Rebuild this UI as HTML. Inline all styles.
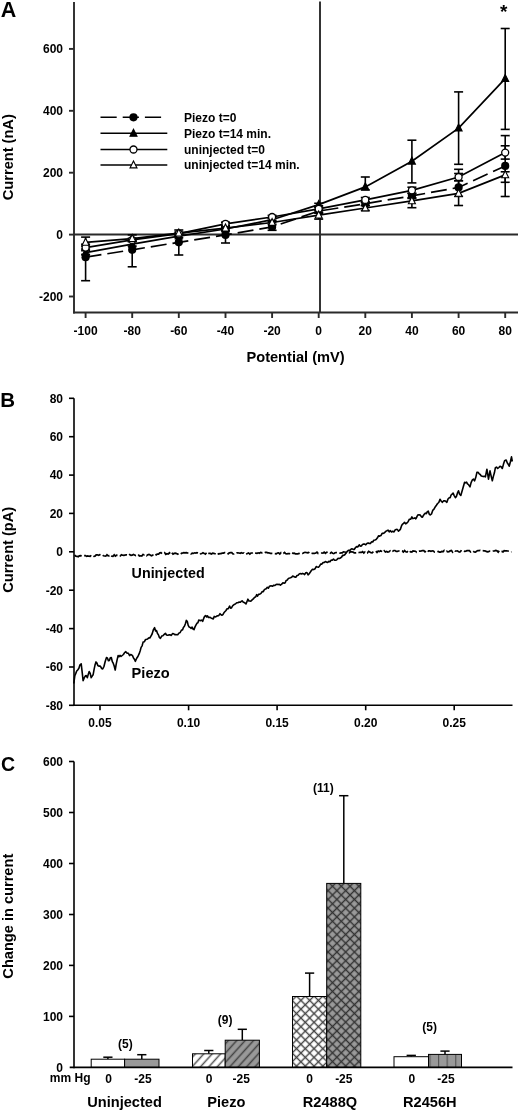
<!DOCTYPE html>
<html><head><meta charset="utf-8"><style>
html,body{margin:0;padding:0;background:#fff;width:520px;height:1112px;overflow:hidden}
svg{display:block;will-change:transform}
</style></head><body>
<svg width="520" height="1112" viewBox="0 0 520 1112">
<rect width="520" height="1112" fill="#fff"/>
<text x="0.8" y="16.8" font-size="21.5" font-family="'Liberation Sans', sans-serif" font-weight="bold">A</text>
<g stroke="#2a2a2a" stroke-width="1.9" fill="none">
<line x1="74" y1="2" x2="74" y2="313.4"/>
<line x1="73.1" y1="312.5" x2="518" y2="312.5"/>
<line x1="69" y1="48.9" x2="74" y2="48.9"/>
<line x1="69" y1="110.8" x2="74" y2="110.8"/>
<line x1="69" y1="172.7" x2="74" y2="172.7"/>
<line x1="69" y1="234.6" x2="74" y2="234.6"/>
<line x1="69" y1="296.5" x2="74" y2="296.5"/>
<line x1="85.6" y1="312.5" x2="85.6" y2="318"/>
<line x1="132.2" y1="312.5" x2="132.2" y2="318"/>
<line x1="178.8" y1="312.5" x2="178.8" y2="318"/>
<line x1="225.5" y1="312.5" x2="225.5" y2="318"/>
<line x1="272.1" y1="312.5" x2="272.1" y2="318"/>
<line x1="318.7" y1="312.5" x2="318.7" y2="318"/>
<line x1="365.3" y1="312.5" x2="365.3" y2="318"/>
<line x1="411.9" y1="312.5" x2="411.9" y2="318"/>
<line x1="458.6" y1="312.5" x2="458.6" y2="318"/>
<line x1="505.2" y1="312.5" x2="505.2" y2="318"/>
<line x1="320" y1="1.5" x2="320" y2="312.5"/>
<line x1="74" y1="234.5" x2="518" y2="234.5"/>
</g>
<text x="63" y="53.2" font-size="12" text-anchor="end" font-family="'Liberation Sans', sans-serif" font-weight="bold">600</text>
<text x="63" y="115.1" font-size="12" text-anchor="end" font-family="'Liberation Sans', sans-serif" font-weight="bold">400</text>
<text x="63" y="177.0" font-size="12" text-anchor="end" font-family="'Liberation Sans', sans-serif" font-weight="bold">200</text>
<text x="63" y="238.9" font-size="12" text-anchor="end" font-family="'Liberation Sans', sans-serif" font-weight="bold">0</text>
<text x="63" y="300.8" font-size="12" text-anchor="end" font-family="'Liberation Sans', sans-serif" font-weight="bold">-200</text>
<text x="85.6" y="335.2" font-size="12" text-anchor="middle" font-family="'Liberation Sans', sans-serif" font-weight="bold">-100</text>
<text x="132.2" y="335.2" font-size="12" text-anchor="middle" font-family="'Liberation Sans', sans-serif" font-weight="bold">-80</text>
<text x="178.8" y="335.2" font-size="12" text-anchor="middle" font-family="'Liberation Sans', sans-serif" font-weight="bold">-60</text>
<text x="225.5" y="335.2" font-size="12" text-anchor="middle" font-family="'Liberation Sans', sans-serif" font-weight="bold">-40</text>
<text x="272.1" y="335.2" font-size="12" text-anchor="middle" font-family="'Liberation Sans', sans-serif" font-weight="bold">-20</text>
<text x="318.7" y="335.2" font-size="12" text-anchor="middle" font-family="'Liberation Sans', sans-serif" font-weight="bold">0</text>
<text x="365.3" y="335.2" font-size="12" text-anchor="middle" font-family="'Liberation Sans', sans-serif" font-weight="bold">20</text>
<text x="411.9" y="335.2" font-size="12" text-anchor="middle" font-family="'Liberation Sans', sans-serif" font-weight="bold">40</text>
<text x="458.6" y="335.2" font-size="12" text-anchor="middle" font-family="'Liberation Sans', sans-serif" font-weight="bold">60</text>
<text x="505.2" y="335.2" font-size="12" text-anchor="middle" font-family="'Liberation Sans', sans-serif" font-weight="bold">80</text>
<text x="246.5" y="361.7" font-size="14.6" font-family="'Liberation Sans', sans-serif" font-weight="bold">Potential (mV)</text>
<text transform="translate(12.9,157.2) rotate(-90)" font-size="14.6" text-anchor="middle" font-family="'Liberation Sans', sans-serif" font-weight="bold">Current (nA)</text>
<text x="503.7" y="18.2" font-size="19" text-anchor="middle" font-family="'Liberation Sans', sans-serif" font-weight="bold">*</text>
<g stroke="#000" stroke-width="1.6" fill="none">
<line x1="85.6" y1="257.2" x2="85.6" y2="280.7"/>
<line x1="81.1" y1="280.7" x2="90.1" y2="280.7"/>
<line x1="132.2" y1="249.8" x2="132.2" y2="266.8"/>
<line x1="127.7" y1="266.8" x2="136.7" y2="266.8"/>
<line x1="178.8" y1="242.3" x2="178.8" y2="255.0"/>
<line x1="174.3" y1="255.0" x2="183.3" y2="255.0"/>
<line x1="225.5" y1="234.9" x2="225.5" y2="243.0"/>
<line x1="221.0" y1="243.0" x2="230.0" y2="243.0"/>
<line x1="272.1" y1="226.9" x2="272.1" y2="230.3"/>
<line x1="267.6" y1="230.3" x2="276.6" y2="230.3"/>
<line x1="318.7" y1="211.1" x2="318.7" y2="209.5"/>
<line x1="314.2" y1="209.5" x2="323.2" y2="209.5"/>
<line x1="318.7" y1="211.1" x2="318.7" y2="212.6"/>
<line x1="314.2" y1="212.6" x2="323.2" y2="212.6"/>
<line x1="365.3" y1="203.7" x2="365.3" y2="201.8"/>
<line x1="360.8" y1="201.8" x2="369.8" y2="201.8"/>
<line x1="365.3" y1="203.7" x2="365.3" y2="205.5"/>
<line x1="360.8" y1="205.5" x2="369.8" y2="205.5"/>
<line x1="411.9" y1="195.9" x2="411.9" y2="193.4"/>
<line x1="407.4" y1="193.4" x2="416.4" y2="193.4"/>
<line x1="411.9" y1="195.9" x2="411.9" y2="198.4"/>
<line x1="407.4" y1="198.4" x2="416.4" y2="198.4"/>
<line x1="458.6" y1="187.4" x2="458.6" y2="173.5"/>
<line x1="454.1" y1="173.5" x2="463.1" y2="173.5"/>
<line x1="458.6" y1="187.4" x2="458.6" y2="196.4"/>
<line x1="454.1" y1="196.4" x2="463.1" y2="196.4"/>
<line x1="505.2" y1="165.9" x2="505.2" y2="145.8"/>
<line x1="500.7" y1="145.8" x2="509.7" y2="145.8"/>
<line x1="505.2" y1="165.9" x2="505.2" y2="182.3"/>
<line x1="500.7" y1="182.3" x2="509.7" y2="182.3"/>
<line x1="85.6" y1="252.6" x2="85.6" y2="250.7"/>
<line x1="81.1" y1="250.7" x2="90.1" y2="250.7"/>
<line x1="85.6" y1="252.6" x2="85.6" y2="254.4"/>
<line x1="81.1" y1="254.4" x2="90.1" y2="254.4"/>
<line x1="132.2" y1="244.2" x2="132.2" y2="241.7"/>
<line x1="127.7" y1="241.7" x2="136.7" y2="241.7"/>
<line x1="132.2" y1="244.2" x2="132.2" y2="246.1"/>
<line x1="127.7" y1="246.1" x2="136.7" y2="246.1"/>
<line x1="178.8" y1="236.1" x2="178.8" y2="234.6"/>
<line x1="174.3" y1="234.6" x2="183.3" y2="234.6"/>
<line x1="178.8" y1="236.1" x2="178.8" y2="237.7"/>
<line x1="174.3" y1="237.7" x2="183.3" y2="237.7"/>
<line x1="225.5" y1="229.0" x2="225.5" y2="227.2"/>
<line x1="221.0" y1="227.2" x2="230.0" y2="227.2"/>
<line x1="225.5" y1="229.0" x2="225.5" y2="230.9"/>
<line x1="221.0" y1="230.9" x2="230.0" y2="230.9"/>
<line x1="272.1" y1="219.7" x2="272.1" y2="217.9"/>
<line x1="267.6" y1="217.9" x2="276.6" y2="217.9"/>
<line x1="272.1" y1="219.7" x2="272.1" y2="221.6"/>
<line x1="267.6" y1="221.6" x2="276.6" y2="221.6"/>
<line x1="318.7" y1="204.6" x2="318.7" y2="203.3"/>
<line x1="314.2" y1="203.3" x2="323.2" y2="203.3"/>
<line x1="318.7" y1="204.6" x2="318.7" y2="205.8"/>
<line x1="314.2" y1="205.8" x2="323.2" y2="205.8"/>
<line x1="365.3" y1="186.9" x2="365.3" y2="177.0"/>
<line x1="360.8" y1="177.0" x2="369.8" y2="177.0"/>
<line x1="365.3" y1="186.9" x2="365.3" y2="190.0"/>
<line x1="360.8" y1="190.0" x2="369.8" y2="190.0"/>
<line x1="411.9" y1="161.2" x2="411.9" y2="140.2"/>
<line x1="407.4" y1="140.2" x2="416.4" y2="140.2"/>
<line x1="411.9" y1="161.2" x2="411.9" y2="182.9"/>
<line x1="407.4" y1="182.9" x2="416.4" y2="182.9"/>
<line x1="458.6" y1="128.1" x2="458.6" y2="91.9"/>
<line x1="454.1" y1="91.9" x2="463.1" y2="91.9"/>
<line x1="458.6" y1="128.1" x2="458.6" y2="164.3"/>
<line x1="454.1" y1="164.3" x2="463.1" y2="164.3"/>
<line x1="505.2" y1="78.6" x2="505.2" y2="28.5"/>
<line x1="500.7" y1="28.5" x2="509.7" y2="28.5"/>
<line x1="505.2" y1="78.6" x2="505.2" y2="129.4"/>
<line x1="500.7" y1="129.4" x2="509.7" y2="129.4"/>
<line x1="85.6" y1="247.6" x2="85.6" y2="246.1"/>
<line x1="81.1" y1="246.1" x2="90.1" y2="246.1"/>
<line x1="85.6" y1="247.6" x2="85.6" y2="249.1"/>
<line x1="81.1" y1="249.1" x2="90.1" y2="249.1"/>
<line x1="132.2" y1="239.9" x2="132.2" y2="238.3"/>
<line x1="127.7" y1="238.3" x2="136.7" y2="238.3"/>
<line x1="132.2" y1="239.9" x2="132.2" y2="241.4"/>
<line x1="127.7" y1="241.4" x2="136.7" y2="241.4"/>
<line x1="178.8" y1="233.7" x2="178.8" y2="232.1"/>
<line x1="174.3" y1="232.1" x2="183.3" y2="232.1"/>
<line x1="178.8" y1="233.7" x2="178.8" y2="235.2"/>
<line x1="174.3" y1="235.2" x2="183.3" y2="235.2"/>
<line x1="225.5" y1="223.8" x2="225.5" y2="222.2"/>
<line x1="221.0" y1="222.2" x2="230.0" y2="222.2"/>
<line x1="225.5" y1="223.8" x2="225.5" y2="225.3"/>
<line x1="221.0" y1="225.3" x2="230.0" y2="225.3"/>
<line x1="272.1" y1="217.0" x2="272.1" y2="215.4"/>
<line x1="267.6" y1="215.4" x2="276.6" y2="215.4"/>
<line x1="272.1" y1="217.0" x2="272.1" y2="218.5"/>
<line x1="267.6" y1="218.5" x2="276.6" y2="218.5"/>
<line x1="318.7" y1="208.8" x2="318.7" y2="207.2"/>
<line x1="314.2" y1="207.2" x2="323.2" y2="207.2"/>
<line x1="318.7" y1="208.8" x2="318.7" y2="210.3"/>
<line x1="314.2" y1="210.3" x2="323.2" y2="210.3"/>
<line x1="365.3" y1="199.9" x2="365.3" y2="197.5"/>
<line x1="360.8" y1="197.5" x2="369.8" y2="197.5"/>
<line x1="365.3" y1="199.9" x2="365.3" y2="202.4"/>
<line x1="360.8" y1="202.4" x2="369.8" y2="202.4"/>
<line x1="411.9" y1="190.3" x2="411.9" y2="187.2"/>
<line x1="407.4" y1="187.2" x2="416.4" y2="187.2"/>
<line x1="411.9" y1="190.3" x2="411.9" y2="193.4"/>
<line x1="407.4" y1="193.4" x2="416.4" y2="193.4"/>
<line x1="458.6" y1="177.0" x2="458.6" y2="169.3"/>
<line x1="454.1" y1="169.3" x2="463.1" y2="169.3"/>
<line x1="458.6" y1="177.0" x2="458.6" y2="180.7"/>
<line x1="454.1" y1="180.7" x2="463.1" y2="180.7"/>
<line x1="505.2" y1="152.6" x2="505.2" y2="135.6"/>
<line x1="500.7" y1="135.6" x2="509.7" y2="135.6"/>
<line x1="505.2" y1="152.6" x2="505.2" y2="159.1"/>
<line x1="500.7" y1="159.1" x2="509.7" y2="159.1"/>
<line x1="85.6" y1="242.3" x2="85.6" y2="237.1"/>
<line x1="81.1" y1="237.1" x2="90.1" y2="237.1"/>
<line x1="85.6" y1="242.3" x2="85.6" y2="244.2"/>
<line x1="81.1" y1="244.2" x2="90.1" y2="244.2"/>
<line x1="132.2" y1="238.6" x2="132.2" y2="234.9"/>
<line x1="127.7" y1="234.9" x2="136.7" y2="234.9"/>
<line x1="132.2" y1="238.6" x2="132.2" y2="240.5"/>
<line x1="127.7" y1="240.5" x2="136.7" y2="240.5"/>
<line x1="178.8" y1="233.1" x2="178.8" y2="230.0"/>
<line x1="174.3" y1="230.0" x2="183.3" y2="230.0"/>
<line x1="178.8" y1="233.1" x2="178.8" y2="234.3"/>
<line x1="174.3" y1="234.3" x2="183.3" y2="234.3"/>
<line x1="225.5" y1="228.1" x2="225.5" y2="226.2"/>
<line x1="221.0" y1="226.2" x2="230.0" y2="226.2"/>
<line x1="225.5" y1="228.1" x2="225.5" y2="230.0"/>
<line x1="221.0" y1="230.0" x2="230.0" y2="230.0"/>
<line x1="272.1" y1="222.5" x2="272.1" y2="220.7"/>
<line x1="267.6" y1="220.7" x2="276.6" y2="220.7"/>
<line x1="272.1" y1="222.5" x2="272.1" y2="224.4"/>
<line x1="267.6" y1="224.4" x2="276.6" y2="224.4"/>
<line x1="318.7" y1="215.1" x2="318.7" y2="213.2"/>
<line x1="314.2" y1="213.2" x2="323.2" y2="213.2"/>
<line x1="318.7" y1="215.1" x2="318.7" y2="219.1"/>
<line x1="314.2" y1="219.1" x2="323.2" y2="219.1"/>
<line x1="365.3" y1="208.0" x2="365.3" y2="205.5"/>
<line x1="360.8" y1="205.5" x2="369.8" y2="205.5"/>
<line x1="365.3" y1="208.0" x2="365.3" y2="210.5"/>
<line x1="360.8" y1="210.5" x2="369.8" y2="210.5"/>
<line x1="411.9" y1="200.9" x2="411.9" y2="197.8"/>
<line x1="407.4" y1="197.8" x2="416.4" y2="197.8"/>
<line x1="411.9" y1="200.9" x2="411.9" y2="207.7"/>
<line x1="407.4" y1="207.7" x2="416.4" y2="207.7"/>
<line x1="458.6" y1="193.4" x2="458.6" y2="180.7"/>
<line x1="454.1" y1="180.7" x2="463.1" y2="180.7"/>
<line x1="458.6" y1="193.4" x2="458.6" y2="205.5"/>
<line x1="454.1" y1="205.5" x2="463.1" y2="205.5"/>
<line x1="505.2" y1="174.9" x2="505.2" y2="171.8"/>
<line x1="500.7" y1="171.8" x2="509.7" y2="171.8"/>
<line x1="505.2" y1="174.9" x2="505.2" y2="196.5"/>
<line x1="500.7" y1="196.5" x2="509.7" y2="196.5"/>
</g>
<polyline points="85.6,257.2 132.2,249.8 178.8,242.3 225.5,234.9 272.1,226.9 318.7,211.1 365.3,203.7 411.9,195.9 458.6,187.4 505.2,165.9" fill="none" stroke="#000" stroke-width="1.7" stroke-dasharray="16,6"/>
<polyline points="85.6,252.6 132.2,244.2 178.8,236.1 225.5,229.0 272.1,219.7 318.7,204.6 365.3,186.9 411.9,161.2 458.6,128.1 505.2,78.6" fill="none" stroke="#000" stroke-width="1.7"/>
<polyline points="85.6,247.6 132.2,239.9 178.8,233.7 225.5,223.8 272.1,217.0 318.7,208.8 365.3,199.9 411.9,190.3 458.6,177.0 505.2,152.6" fill="none" stroke="#000" stroke-width="1.7"/>
<polyline points="85.6,242.3 132.2,238.6 178.8,233.1 225.5,228.1 272.1,222.5 318.7,215.1 365.3,208.0 411.9,200.9 458.6,193.4 505.2,174.9" fill="none" stroke="#000" stroke-width="1.7"/>
<polygon points="85.6,248.5 89.1,255.5 82.1,255.5" fill="#000" stroke="#000" stroke-width="1.1" stroke-linejoin="miter"/>
<polygon points="132.2,240.1 135.7,247.1 128.7,247.1" fill="#000" stroke="#000" stroke-width="1.1" stroke-linejoin="miter"/>
<polygon points="178.8,232.0 182.3,239.0 175.3,239.0" fill="#000" stroke="#000" stroke-width="1.1" stroke-linejoin="miter"/>
<polygon points="225.5,224.9 229.0,231.9 222.0,231.9" fill="#000" stroke="#000" stroke-width="1.1" stroke-linejoin="miter"/>
<polygon points="272.1,215.6 275.6,222.6 268.6,222.6" fill="#000" stroke="#000" stroke-width="1.1" stroke-linejoin="miter"/>
<polygon points="318.7,200.5 322.2,207.5 315.2,207.5" fill="#000" stroke="#000" stroke-width="1.1" stroke-linejoin="miter"/>
<polygon points="365.3,182.8 368.8,189.8 361.8,189.8" fill="#000" stroke="#000" stroke-width="1.1" stroke-linejoin="miter"/>
<polygon points="411.9,157.1 415.4,164.1 408.4,164.1" fill="#000" stroke="#000" stroke-width="1.1" stroke-linejoin="miter"/>
<polygon points="458.6,124.0 462.1,131.0 455.1,131.0" fill="#000" stroke="#000" stroke-width="1.1" stroke-linejoin="miter"/>
<polygon points="505.2,74.5 508.7,81.5 501.7,81.5" fill="#000" stroke="#000" stroke-width="1.1" stroke-linejoin="miter"/>
<circle cx="85.6" cy="257.2" r="4.1" fill="#000"/>
<circle cx="132.2" cy="249.8" r="4.1" fill="#000"/>
<circle cx="178.8" cy="242.3" r="4.1" fill="#000"/>
<circle cx="225.5" cy="234.9" r="4.1" fill="#000"/>
<circle cx="272.1" cy="226.9" r="4.1" fill="#000"/>
<circle cx="318.7" cy="211.1" r="4.1" fill="#000"/>
<circle cx="365.3" cy="203.7" r="4.1" fill="#000"/>
<circle cx="411.9" cy="195.9" r="4.1" fill="#000"/>
<circle cx="458.6" cy="187.4" r="4.1" fill="#000"/>
<circle cx="505.2" cy="165.9" r="4.1" fill="#000"/>
<circle cx="85.6" cy="247.6" r="3.5" fill="#fff" stroke="#000" stroke-width="1.3"/>
<circle cx="132.2" cy="239.9" r="3.5" fill="#fff" stroke="#000" stroke-width="1.3"/>
<circle cx="178.8" cy="233.7" r="3.5" fill="#fff" stroke="#000" stroke-width="1.3"/>
<circle cx="225.5" cy="223.8" r="3.5" fill="#fff" stroke="#000" stroke-width="1.3"/>
<circle cx="272.1" cy="217.0" r="3.5" fill="#fff" stroke="#000" stroke-width="1.3"/>
<circle cx="318.7" cy="208.8" r="3.5" fill="#fff" stroke="#000" stroke-width="1.3"/>
<circle cx="365.3" cy="199.9" r="3.5" fill="#fff" stroke="#000" stroke-width="1.3"/>
<circle cx="411.9" cy="190.3" r="3.5" fill="#fff" stroke="#000" stroke-width="1.3"/>
<circle cx="458.6" cy="177.0" r="3.5" fill="#fff" stroke="#000" stroke-width="1.3"/>
<circle cx="505.2" cy="152.6" r="3.5" fill="#fff" stroke="#000" stroke-width="1.3"/>
<polygon points="85.6,238.2 89.1,245.2 82.1,245.2" fill="#fff" stroke="#000" stroke-width="1.1" stroke-linejoin="miter"/>
<polygon points="132.2,234.5 135.7,241.5 128.7,241.5" fill="#fff" stroke="#000" stroke-width="1.1" stroke-linejoin="miter"/>
<polygon points="178.8,229.0 182.3,236.0 175.3,236.0" fill="#fff" stroke="#000" stroke-width="1.1" stroke-linejoin="miter"/>
<polygon points="225.5,224.0 229.0,231.0 222.0,231.0" fill="#fff" stroke="#000" stroke-width="1.1" stroke-linejoin="miter"/>
<polygon points="272.1,218.4 275.6,225.4 268.6,225.4" fill="#fff" stroke="#000" stroke-width="1.1" stroke-linejoin="miter"/>
<polygon points="318.7,211.0 322.2,218.0 315.2,218.0" fill="#fff" stroke="#000" stroke-width="1.1" stroke-linejoin="miter"/>
<polygon points="365.3,203.9 368.8,210.9 361.8,210.9" fill="#fff" stroke="#000" stroke-width="1.1" stroke-linejoin="miter"/>
<polygon points="411.9,196.8 415.4,203.8 408.4,203.8" fill="#fff" stroke="#000" stroke-width="1.1" stroke-linejoin="miter"/>
<polygon points="458.6,189.3 462.1,196.3 455.1,196.3" fill="#fff" stroke="#000" stroke-width="1.1" stroke-linejoin="miter"/>
<polygon points="505.2,170.8 508.7,177.8 501.7,177.8" fill="#fff" stroke="#000" stroke-width="1.1" stroke-linejoin="miter"/>
<line x1="100.5" y1="117.3" x2="161.5" y2="117.3" stroke="#000" stroke-width="1.5" stroke-dasharray="16.2,6"/>
<circle cx="133.5" cy="117.3" r="4.1" fill="#000"/>
<text x="184" y="121.6" font-size="12" font-family="'Liberation Sans', sans-serif" font-weight="bold">Piezo t=0</text>
<line x1="100.5" y1="133.3" x2="167.3" y2="133.3" stroke="#000" stroke-width="1.5"/>
<polygon points="133.5,129.2 137.0,136.2 130.0,136.2" fill="#000" stroke="#000" stroke-width="1.1" stroke-linejoin="miter"/>
<text x="184" y="137.6" font-size="12" font-family="'Liberation Sans', sans-serif" font-weight="bold">Piezo t=14 min.</text>
<line x1="100.5" y1="149.5" x2="167.3" y2="149.5" stroke="#000" stroke-width="1.5"/>
<circle cx="133.5" cy="149.5" r="3.5" fill="#fff" stroke="#000" stroke-width="1.3"/>
<text x="184" y="153.8" font-size="12" font-family="'Liberation Sans', sans-serif" font-weight="bold">uninjected t=0</text>
<line x1="100.5" y1="165" x2="167.3" y2="165" stroke="#000" stroke-width="1.5"/>
<polygon points="133.5,160.9 137.0,167.9 130.0,167.9" fill="#fff" stroke="#000" stroke-width="1.1" stroke-linejoin="miter"/>
<text x="184" y="169.3" font-size="12" font-family="'Liberation Sans', sans-serif" font-weight="bold">uninjected t=14 min.</text>
<text x="0.3" y="407.3" font-size="20.5" font-family="'Liberation Sans', sans-serif" font-weight="bold">B</text>
<g stroke="#000" stroke-width="1.6" fill="none">
<line x1="74" y1="398.3" x2="74" y2="706.1"/>
<line x1="73.2" y1="705.3" x2="512.5" y2="705.3"/>
<line x1="69" y1="398.3" x2="74" y2="398.3"/>
<line x1="69" y1="436.7" x2="74" y2="436.7"/>
<line x1="69" y1="475.1" x2="74" y2="475.1"/>
<line x1="69" y1="513.4" x2="74" y2="513.4"/>
<line x1="69" y1="551.8" x2="74" y2="551.8"/>
<line x1="69" y1="590.2" x2="74" y2="590.2"/>
<line x1="69" y1="628.6" x2="74" y2="628.6"/>
<line x1="69" y1="667.0" x2="74" y2="667.0"/>
<line x1="69" y1="705.3" x2="74" y2="705.3"/>
<line x1="100.0" y1="705.3" x2="100.0" y2="710.3"/>
<line x1="188.6" y1="705.3" x2="188.6" y2="710.3"/>
<line x1="277.1" y1="705.3" x2="277.1" y2="710.3"/>
<line x1="365.7" y1="705.3" x2="365.7" y2="710.3"/>
<line x1="454.2" y1="705.3" x2="454.2" y2="710.3"/>
</g>
<text x="63" y="402.6" font-size="12" text-anchor="end" font-family="'Liberation Sans', sans-serif" font-weight="bold">80</text>
<text x="63" y="441.0" font-size="12" text-anchor="end" font-family="'Liberation Sans', sans-serif" font-weight="bold">60</text>
<text x="63" y="479.4" font-size="12" text-anchor="end" font-family="'Liberation Sans', sans-serif" font-weight="bold">40</text>
<text x="63" y="517.7" font-size="12" text-anchor="end" font-family="'Liberation Sans', sans-serif" font-weight="bold">20</text>
<text x="63" y="556.1" font-size="12" text-anchor="end" font-family="'Liberation Sans', sans-serif" font-weight="bold">0</text>
<text x="63" y="594.5" font-size="12" text-anchor="end" font-family="'Liberation Sans', sans-serif" font-weight="bold">-20</text>
<text x="63" y="632.9" font-size="12" text-anchor="end" font-family="'Liberation Sans', sans-serif" font-weight="bold">-40</text>
<text x="63" y="671.3" font-size="12" text-anchor="end" font-family="'Liberation Sans', sans-serif" font-weight="bold">-60</text>
<text x="63" y="709.6" font-size="12" text-anchor="end" font-family="'Liberation Sans', sans-serif" font-weight="bold">-80</text>
<text x="100.0" y="726.6" font-size="12" text-anchor="middle" font-family="'Liberation Sans', sans-serif" font-weight="bold">0.05</text>
<text x="188.6" y="726.6" font-size="12" text-anchor="middle" font-family="'Liberation Sans', sans-serif" font-weight="bold">0.10</text>
<text x="277.1" y="726.6" font-size="12" text-anchor="middle" font-family="'Liberation Sans', sans-serif" font-weight="bold">0.15</text>
<text x="365.7" y="726.6" font-size="12" text-anchor="middle" font-family="'Liberation Sans', sans-serif" font-weight="bold">0.20</text>
<text x="454.2" y="726.6" font-size="12" text-anchor="middle" font-family="'Liberation Sans', sans-serif" font-weight="bold">0.25</text>
<text transform="translate(13.2,549.8) rotate(-90)" font-size="14.6" text-anchor="middle" font-family="'Liberation Sans', sans-serif" font-weight="bold">Current (pA)</text>
<text x="131.6" y="577.5" font-size="14.3" font-family="'Liberation Sans', sans-serif" font-weight="bold">Uninjected</text>
<text x="131.6" y="677.7" font-size="14.6" font-family="'Liberation Sans', sans-serif" font-weight="bold">Piezo</text>
<polyline points="73.8,683.5 74.8,675.8 75.8,673.4 76.7,671.0 77.7,670.0 78.9,668.3 80.0,664.8 81.2,663.8 82.2,672.3 83.1,680.6 84.2,677.9 85.4,675.8 86.3,675.6 87.3,677.7 88.2,674.6 89.2,671.5 90.2,673.4 91.2,677.7 92.2,676.1 93.1,674.8 94.1,669.4 95.0,665.1 96.0,661.9 96.9,663.1 97.9,665.6 98.8,666.2 99.8,665.9 100.8,666.9 101.7,668.6 102.7,669.0 104.0,666.3 105.2,661.5 106.5,657.5 107.5,658.2 108.4,660.7 109.4,660.4 110.3,657.8 111.3,657.5 112.3,661.6 113.2,663.2 114.2,666.0 115.2,670.0 116.2,664.2 117.1,659.9 118.1,655.6 119.1,656.7 120.0,655.4 121.0,656.5 122.2,655.5 123.4,654.5 124.6,652.6 125.8,651.7 127.1,653.1 128.3,653.2 129.6,655.6 130.6,654.5 131.5,654.8 132.5,655.6 133.5,658.0 134.4,659.2 135.4,661.3 136.7,658.3 137.9,656.5 139.2,653.7 140.2,650.7 141.1,647.4 142.1,645.8 143.1,642.1 144.4,641.7 145.6,639.5 146.9,639.2 147.9,638.7 148.9,637.8 149.8,638.0 150.8,636.3 152.1,634.0 153.3,630.0 154.6,627.7 155.6,630.9 156.5,630.6 157.5,633.5 158.5,634.9 159.4,637.4 160.4,638.3 161.7,636.1 162.9,635.7 164.2,634.4 165.4,633.3 166.5,635.0 167.7,635.3 168.8,634.9 170.0,634.8 171.3,635.4 172.5,633.6 173.8,633.8 174.8,634.6 175.8,634.5 176.7,634.8 177.7,634.8 179.0,633.1 180.2,632.5 181.5,630.0 182.5,629.9 183.4,627.4 184.4,626.2 185.4,623.7 186.3,620.4 187.3,621.5 188.2,625.4 189.2,627.1 190.2,627.5 191.1,628.4 192.1,627.1 193.1,629.2 194.0,629.6 195.0,626.9 195.9,625.1 196.9,623.3 197.9,622.8 198.8,620.1 199.8,620.4 200.8,620.6 201.7,620.1 202.7,621.3 203.7,618.4 204.6,616.4 205.6,615.6 206.6,616.9 207.5,615.9 208.5,617.5 209.8,617.2 211.0,617.9 212.3,618.5 213.3,619.0 214.2,616.4 215.2,616.9 216.2,616.5 217.5,615.7 218.7,615.6 220.0,613.7 221.0,614.8 221.9,615.2 222.9,614.6 223.9,612.8 224.8,611.8 225.8,610.8 227.1,608.8 228.3,608.6 229.6,606.0 230.6,608.1 231.5,607.9 232.5,606.0 233.4,605.1 234.4,604.3 235.4,604.0 236.7,602.7 237.9,602.7 239.2,602.1 240.2,602.3 241.1,601.5 242.1,600.8 243.1,602.1 244.1,602.5 245.0,603.0 246.0,604.0 246.9,601.8 247.9,599.2 248.9,601.0 249.8,601.0 250.8,601.2 252.1,599.9 253.3,598.9 254.6,597.3 255.6,597.0 256.6,594.7 257.5,596.2 258.5,594.4 259.8,594.2 261.0,593.4 262.3,591.5 263.3,591.6 264.2,589.8 265.2,589.1 266.2,588.7 267.3,587.3 268.4,588.2 269.4,586.3 270.5,585.9 271.6,585.9 272.7,586.2 273.8,585.2 274.9,585.5 276.0,584.6 277.1,584.3 278.2,584.6 279.3,584.3 280.4,585.2 281.7,584.2 282.9,582.7 284.2,583.3 285.2,582.8 286.2,580.4 287.3,580.1 288.4,578.4 289.5,578.1 290.5,577.8 291.6,577.3 292.7,576.1 293.8,576.5 294.9,577.1 296.0,577.2 297.0,575.5 298.1,575.2 299.2,573.9 300.3,573.6 301.3,573.9 302.4,573.4 303.5,573.7 304.6,574.6 305.8,572.8 306.9,572.5 308.1,574.9 309.2,573.7 310.2,572.3 311.2,570.8 312.5,569.2 313.7,569.6 315.0,568.8 316.2,566.6 317.3,567.0 318.5,567.2 319.6,565.9 320.8,564.0 321.9,564.1 323.1,562.6 324.2,562.5 325.4,561.6 326.5,562.1 327.7,562.4 328.8,561.4 330.0,561.7 331.1,560.1 332.3,560.2 333.5,559.1 334.6,560.2 335.8,560.3 336.9,559.6 338.1,558.3 339.2,558.5 340.4,558.0 341.5,557.2 342.7,555.3 343.8,555.4 345.0,554.5 346.1,553.1 347.3,551.3 348.4,550.3 349.6,550.6 350.8,549.4 351.9,548.8 353.1,549.4 354.2,549.5 355.4,547.7 356.7,546.6 357.9,546.9 359.2,544.8 360.3,546.1 361.4,546.0 362.5,544.4 363.6,544.1 364.7,544.1 365.8,544.8 366.9,543.4 368.1,542.9 369.2,543.4 370.4,543.5 371.5,541.9 372.7,542.0 373.8,540.3 375.0,540.0 376.1,539.6 377.3,538.1 378.5,535.8 379.7,536.1 380.9,535.6 382.1,533.3 383.3,533.4 384.5,532.7 385.7,531.4 386.9,530.8 388.1,530.1 389.2,531.8 390.4,530.7 391.5,532.0 392.7,531.3 394.0,531.9 395.2,529.8 396.5,529.4 397.5,529.5 398.4,531.2 399.4,530.4 400.4,529.3 401.4,526.2 402.3,524.4 403.3,523.7 404.5,522.3 405.7,523.8 406.9,523.0 408.1,521.7 409.4,519.2 410.6,519.3 411.9,516.9 412.9,518.6 413.9,518.3 414.8,517.9 415.8,518.8 416.8,517.0 417.7,515.0 419.0,514.7 420.2,515.0 421.5,516.9 422.5,517.2 423.4,515.4 424.4,514.1 425.4,513.1 426.4,513.6 427.3,511.7 428.3,511.2 429.2,514.1 430.2,515.0 431.5,513.9 432.7,510.4 434.0,509.2 435.2,506.9 436.4,505.3 437.6,503.5 438.8,502.5 440.0,499.2 441.1,501.0 442.3,502.3 443.5,500.9 444.6,500.8 445.8,501.3 446.9,502.3 448.0,499.0 449.2,497.7 450.2,497.6 451.1,495.0 452.1,494.1 453.1,493.1 454.2,495.6 455.4,497.7 456.4,496.5 457.5,492.9 458.5,490.8 459.6,494.2 460.8,495.4 462.1,491.0 463.3,486.7 464.6,482.3 465.6,482.9 466.6,482.2 467.5,483.9 468.5,484.6 470.0,486.9 471.1,482.6 472.3,480.0 473.5,479.1 474.6,480.8 475.8,477.3 476.9,472.3 478.0,472.2 479.2,473.8 480.2,474.5 481.3,476.0 482.3,476.2 483.3,476.6 484.4,476.2 485.4,476.9 486.9,469.2 488.5,479.2 490.0,470.8 491.1,475.8 492.3,480.8 493.3,476.6 494.4,472.8 495.4,467.7 496.5,467.1 497.7,468.5 498.9,467.5 500.0,466.2 501.1,466.7 502.3,468.5 503.5,464.1 504.6,460.8 506.2,460.0 507.2,462.8 508.2,464.2 509.2,466.2 510.4,461.7 511.5,456.9 512.3,461.5" fill="none" stroke="#000" stroke-width="1.6" stroke-linejoin="round"/>
<polyline points="74.6,555.1 75.8,556.2 77.0,556.3 78.2,556.8 79.4,555.9 80.6,555.6 81.8,555.9 83.0,555.5 84.2,555.6 85.4,555.5 86.6,556.4 87.8,555.9 89.0,556.2 90.2,556.3 91.4,555.1 92.6,555.6 93.8,556.3 95.0,556.1 96.2,554.9 97.4,554.8 98.6,555.4 99.8,554.7 101.0,555.0 102.2,554.7 103.4,555.8 104.6,556.0 105.8,556.2 107.0,554.8 108.2,555.8 109.4,555.7 110.6,554.8 111.8,556.1 113.0,556.3 114.2,554.9 115.4,556.2 116.6,555.2 117.8,555.4 119.0,556.3 120.2,556.0 121.4,554.8 122.6,555.2 123.8,555.4 125.0,555.1 126.2,554.8 127.4,555.0 128.6,555.7 129.8,554.5 131.0,555.4 132.2,555.2 133.4,554.4 134.6,555.0 135.8,555.5 137.0,555.3 138.2,554.5 139.4,556.1 140.6,555.8 141.8,556.1 143.0,554.5 144.2,554.8 145.4,554.4 146.6,555.7 147.8,554.8 149.0,554.5 150.2,555.0 151.4,555.7 152.6,555.3 153.8,554.1 155.0,553.7 156.2,554.9 157.4,554.1 158.6,554.1 159.8,552.8 161.0,552.7 162.2,553.8 163.4,553.4 164.6,552.7 165.8,554.3 167.0,553.7 168.2,554.0 169.4,552.7 170.6,554.1 171.8,552.7 173.0,554.1 174.2,553.4 175.4,553.2 176.6,553.6 177.8,554.2 179.0,553.0 180.2,552.8 181.4,553.5 182.6,553.0 183.8,552.7 185.0,552.8 186.2,552.6 187.4,552.9 188.6,553.1 189.8,553.1 191.0,553.9 192.2,553.1 193.4,553.4 194.6,552.8 195.8,553.1 197.0,552.6 198.2,553.0 199.4,552.5 200.6,553.8 201.8,553.5 203.0,552.8 204.2,553.4 205.4,554.2 206.6,552.7 207.8,554.0 209.0,553.3 210.2,553.4 211.4,554.0 212.6,553.2 213.8,553.4 215.0,553.7 216.2,554.2 217.4,553.1 218.6,554.0 219.8,553.7 221.0,553.6 222.2,553.2 223.4,553.1 224.6,552.6 225.8,552.7 227.0,552.6 228.2,553.8 229.4,552.9 230.6,552.7 231.8,552.6 233.0,554.0 234.2,554.0 235.4,553.6 236.6,552.9 237.8,552.9 239.0,553.0 240.2,553.3 241.4,552.7 242.6,553.2 243.8,552.9 245.0,554.1 246.2,554.2 247.4,553.4 248.6,552.9 249.8,554.1 251.0,553.0 252.2,553.0 253.4,552.4 254.6,553.1 255.8,553.2 257.0,553.3 258.2,552.8 259.4,553.3 260.6,552.4 261.8,552.9 263.0,552.5 264.2,553.1 265.4,552.4 266.6,552.4 267.8,552.9 269.0,552.8 270.2,553.4 271.4,553.3 272.6,553.7 273.8,553.5 275.0,553.6 276.2,553.9 277.4,553.0 278.6,552.9 279.8,554.1 281.0,552.6 282.2,553.6 283.4,553.5 284.6,552.4 285.8,553.8 287.0,553.9 288.2,553.5 289.4,553.6 290.6,553.8 291.8,552.6 293.0,553.3 294.2,553.2 295.4,553.8 296.6,553.8 297.8,553.8 299.0,553.4 300.2,553.9 301.4,553.5 302.6,553.5 303.8,552.7 305.0,552.3 306.2,552.5 307.4,552.9 308.6,552.4 309.8,553.7 311.0,553.2 312.2,553.3 313.4,553.3 314.6,553.3 315.8,553.0 317.0,552.1 318.2,553.5 319.4,553.4 320.6,553.0 321.8,553.0 323.0,553.2 324.2,552.1 325.4,553.3 326.6,552.4 327.8,552.1 329.0,552.4 330.2,553.2 331.4,552.3 332.6,553.2 333.8,553.6 335.0,552.8 336.2,552.5 337.4,552.7 338.6,553.1 339.8,553.2 341.0,552.9 342.2,552.9 343.4,551.9 344.6,552.0 345.8,552.2 347.0,553.1 348.2,552.3 349.4,552.7 350.6,551.7 351.8,551.8 353.0,552.1 354.2,552.8 355.4,552.9 356.6,552.8 357.8,552.1 359.0,552.5 360.2,552.4 361.4,552.4 362.6,551.7 363.8,553.1 365.0,551.9 366.2,553.2 367.4,553.0 368.6,551.3 369.8,552.0 371.0,552.6 372.2,552.8 373.4,551.7 374.6,551.3 375.8,551.2 377.0,552.4 378.2,551.0 379.4,551.6 380.6,550.8 381.8,551.4 383.0,552.2 384.2,550.7 385.4,552.0 386.6,551.4 387.8,552.1 389.0,551.8 390.2,550.9 391.4,552.1 392.6,551.4 393.8,550.5 395.0,550.5 396.2,551.4 397.4,551.3 398.6,551.0 399.8,550.7 401.0,551.1 402.2,551.0 403.4,552.0 404.6,550.5 405.8,551.8 407.0,552.0 408.2,550.7 409.4,552.1 410.6,551.7 411.8,552.1 413.0,551.0 414.2,551.1 415.4,551.2 416.6,552.2 417.8,551.5 419.0,551.1 420.2,551.2 421.4,550.9 422.6,550.5 423.8,550.6 425.0,551.9 426.2,550.9 427.4,552.1 428.6,550.9 429.8,550.9 431.0,551.3 432.2,550.8 433.4,551.1 434.6,552.1 435.8,552.0 437.0,551.9 438.2,551.5 439.4,552.1 440.6,552.1 441.8,551.4 443.0,551.7 444.2,550.5 445.4,551.7 446.6,551.2 447.8,551.8 449.0,551.6 450.2,550.9 451.4,550.5 452.6,552.1 453.8,550.6 455.0,551.2 456.2,551.0 457.4,550.9 458.6,551.7 459.8,552.1 461.0,550.8 462.2,551.6 463.4,550.9 464.6,551.4 465.8,551.1 467.0,550.7 468.2,550.7 469.4,550.7 470.6,552.0 471.8,551.3 473.0,550.8 474.2,552.0 475.4,552.1 476.6,551.2 477.8,550.6 479.0,550.7 480.2,550.5 481.4,551.0 482.6,550.5 483.8,550.8 485.0,550.8 486.2,551.4 487.4,551.9 488.6,551.7 489.8,551.1 491.0,551.1 492.2,551.3 493.4,551.0 494.6,550.9 495.8,550.4 497.0,550.8 498.2,552.1 499.4,550.5 500.6,551.2 501.8,551.4 503.0,551.9 504.2,550.7 505.4,550.8 506.6,550.8 507.8,551.0 509.0,551.1 510.2,552.0 511.4,551.8" fill="none" stroke="#000" stroke-width="1.7" stroke-dasharray="8,2.5"/>
<text x="1" y="770.8" font-size="19.5" font-family="'Liberation Sans', sans-serif" font-weight="bold">C</text>
<text x="63" y="765.8" font-size="12" text-anchor="end" font-family="'Liberation Sans', sans-serif" font-weight="bold">600</text>
<text x="63" y="816.8" font-size="12" text-anchor="end" font-family="'Liberation Sans', sans-serif" font-weight="bold">500</text>
<text x="63" y="867.8" font-size="12" text-anchor="end" font-family="'Liberation Sans', sans-serif" font-weight="bold">400</text>
<text x="63" y="918.8" font-size="12" text-anchor="end" font-family="'Liberation Sans', sans-serif" font-weight="bold">300</text>
<text x="63" y="969.7" font-size="12" text-anchor="end" font-family="'Liberation Sans', sans-serif" font-weight="bold">200</text>
<text x="63" y="1020.7" font-size="12" text-anchor="end" font-family="'Liberation Sans', sans-serif" font-weight="bold">100</text>
<text x="63" y="1071.7" font-size="12" text-anchor="end" font-family="'Liberation Sans', sans-serif" font-weight="bold">0</text>
<text transform="translate(13.0,916.2) rotate(-90)" font-size="14.6" text-anchor="middle" font-family="'Liberation Sans', sans-serif" font-weight="bold">Change in current</text>
<defs>
<pattern id="hw" patternUnits="userSpaceOnUse" width="6.24" height="6.24" patternTransform="translate(190.6,1063.8) rotate(42)"><rect width="6.24" height="6.24" fill="#fff"/><line x1="3.12" y1="-1" x2="3.12" y2="7.3" stroke="#555" stroke-width="1.5"/></pattern>
<pattern id="hg" patternUnits="userSpaceOnUse" width="6.24" height="6.24" patternTransform="translate(227.9,1064.3) rotate(42)"><rect width="6.24" height="6.24" fill="#999"/><line x1="3.12" y1="-1" x2="3.12" y2="7.3" stroke="#444" stroke-width="1.5"/></pattern>
<pattern id="xw" patternUnits="userSpaceOnUse" width="6.2" height="6.2" patternTransform="translate(296.5,1000.4) rotate(45)"><rect width="6.2" height="6.2" fill="#fff"/><line x1="3.1" y1="-1" x2="3.1" y2="7.2" stroke="#444" stroke-width="1.4"/><line x1="-1" y1="3.1" x2="7.2" y2="3.1" stroke="#444" stroke-width="1.4"/></pattern>
<pattern id="xg" patternUnits="userSpaceOnUse" width="6.2" height="6.2" patternTransform="translate(332.5,899.4) rotate(45)"><rect width="6.2" height="6.2" fill="#999"/><line x1="3.1" y1="-1" x2="3.1" y2="7.2" stroke="#333" stroke-width="1.4"/><line x1="-1" y1="3.1" x2="7.2" y2="3.1" stroke="#333" stroke-width="1.4"/></pattern>
<pattern id="vg" patternUnits="userSpaceOnUse" x="429.4" width="8.6" height="10"><rect width="8.6" height="10" fill="#999"/><line x1="0.5" y1="0" x2="0.5" y2="10" stroke="#555" stroke-width="1.3"/></pattern>
</defs>
<line x1="107.9" y1="1059.2" x2="107.9" y2="1057.2" stroke="#000" stroke-width="1.5"/>
<line x1="103.3" y1="1057.2" x2="112.5" y2="1057.2" stroke="#000" stroke-width="1.5"/>
<rect x="91.2" y="1059.2" width="33.4" height="8.2" fill="#fff" stroke="#000" stroke-width="1"/>
<line x1="141.8" y1="1059.2" x2="141.8" y2="1054.7" stroke="#000" stroke-width="1.5"/>
<line x1="137.2" y1="1054.7" x2="146.4" y2="1054.7" stroke="#000" stroke-width="1.5"/>
<rect x="124.6" y="1059.2" width="34.4" height="8.2" fill="#999" stroke="#000" stroke-width="1"/>
<line x1="208.8" y1="1053.8" x2="208.8" y2="1050.5" stroke="#000" stroke-width="1.5"/>
<line x1="204.2" y1="1050.5" x2="213.4" y2="1050.5" stroke="#000" stroke-width="1.5"/>
<rect x="192.5" y="1053.8" width="32.7" height="13.6" fill="url(#hw)" stroke="#000" stroke-width="1"/>
<line x1="242.3" y1="1040.2" x2="242.3" y2="1029.3" stroke="#000" stroke-width="1.5"/>
<line x1="237.7" y1="1029.3" x2="246.9" y2="1029.3" stroke="#000" stroke-width="1.5"/>
<rect x="225.2" y="1040.2" width="34.2" height="27.2" fill="url(#hg)" stroke="#000" stroke-width="1"/>
<line x1="309.6" y1="996.5" x2="309.6" y2="973.1" stroke="#000" stroke-width="1.5"/>
<line x1="305.0" y1="973.1" x2="314.2" y2="973.1" stroke="#000" stroke-width="1.5"/>
<rect x="292.5" y="996.5" width="34.2" height="70.9" fill="url(#xw)" stroke="#000" stroke-width="1"/>
<line x1="343.8" y1="883.4" x2="343.8" y2="795.7" stroke="#000" stroke-width="1.5"/>
<line x1="339.1" y1="795.7" x2="348.4" y2="795.7" stroke="#000" stroke-width="1.5"/>
<rect x="326.7" y="883.4" width="34.1" height="184.0" fill="url(#xg)" stroke="#000" stroke-width="1"/>
<line x1="411.2" y1="1056.7" x2="411.2" y2="1055.4" stroke="#000" stroke-width="1.5"/>
<line x1="406.6" y1="1055.4" x2="415.9" y2="1055.4" stroke="#000" stroke-width="1.5"/>
<rect x="394.0" y="1056.7" width="34.5" height="10.7" fill="#fff" stroke="#000" stroke-width="1"/>
<line x1="445.0" y1="1054.4" x2="445.0" y2="1051.1" stroke="#000" stroke-width="1.5"/>
<line x1="440.4" y1="1051.1" x2="449.6" y2="1051.1" stroke="#000" stroke-width="1.5"/>
<rect x="428.5" y="1054.4" width="33.0" height="13.0" fill="url(#vg)" stroke="#000" stroke-width="1"/>
<g stroke="#000" stroke-width="1.6" fill="none">
<line x1="74" y1="761.5" x2="74" y2="1068.2"/>
<line x1="69.7" y1="1067.4" x2="512.5" y2="1067.4"/>
<line x1="69" y1="761.5" x2="74" y2="761.5"/>
<line x1="69" y1="812.5" x2="74" y2="812.5"/>
<line x1="69" y1="863.5" x2="74" y2="863.5"/>
<line x1="69" y1="914.5" x2="74" y2="914.5"/>
<line x1="69" y1="965.4" x2="74" y2="965.4"/>
<line x1="69" y1="1016.4" x2="74" y2="1016.4"/>
</g>
<text x="125.4" y="1048.0" font-size="12" text-anchor="middle" font-family="'Liberation Sans', sans-serif" font-weight="bold">(5)</text>
<text x="225.1" y="1023.9" font-size="12" text-anchor="middle" font-family="'Liberation Sans', sans-serif" font-weight="bold">(9)</text>
<text x="323.4" y="791.8" font-size="12" text-anchor="middle" font-family="'Liberation Sans', sans-serif" font-weight="bold">(11)</text>
<text x="429.7" y="1030.6" font-size="12" text-anchor="middle" font-family="'Liberation Sans', sans-serif" font-weight="bold">(5)</text>
<text x="49.8" y="1081.5" font-size="12" font-family="'Liberation Sans', sans-serif" font-weight="bold">mm Hg</text>
<text x="108.6" y="1082.8" font-size="12" text-anchor="middle" font-family="'Liberation Sans', sans-serif" font-weight="bold">0</text>
<text x="143" y="1082.8" font-size="12" text-anchor="middle" font-family="'Liberation Sans', sans-serif" font-weight="bold">-25</text>
<text x="209.2" y="1082.8" font-size="12" text-anchor="middle" font-family="'Liberation Sans', sans-serif" font-weight="bold">0</text>
<text x="241.2" y="1082.8" font-size="12" text-anchor="middle" font-family="'Liberation Sans', sans-serif" font-weight="bold">-25</text>
<text x="309.6" y="1082.8" font-size="12" text-anchor="middle" font-family="'Liberation Sans', sans-serif" font-weight="bold">0</text>
<text x="343.8" y="1082.8" font-size="12" text-anchor="middle" font-family="'Liberation Sans', sans-serif" font-weight="bold">-25</text>
<text x="411.8" y="1082.8" font-size="12" text-anchor="middle" font-family="'Liberation Sans', sans-serif" font-weight="bold">0</text>
<text x="446" y="1082.8" font-size="12" text-anchor="middle" font-family="'Liberation Sans', sans-serif" font-weight="bold">-25</text>
<text x="124.6" y="1106.5" font-size="14.6" text-anchor="middle" font-family="'Liberation Sans', sans-serif" font-weight="bold">Uninjected</text>
<text x="226.3" y="1106.5" font-size="14.6" text-anchor="middle" font-family="'Liberation Sans', sans-serif" font-weight="bold">Piezo</text>
<text x="330" y="1106.5" font-size="14.6" text-anchor="middle" font-family="'Liberation Sans', sans-serif" font-weight="bold">R2488Q</text>
<text x="429.8" y="1106.5" font-size="14.6" text-anchor="middle" font-family="'Liberation Sans', sans-serif" font-weight="bold">R2456H</text>
</svg>
</body></html>
